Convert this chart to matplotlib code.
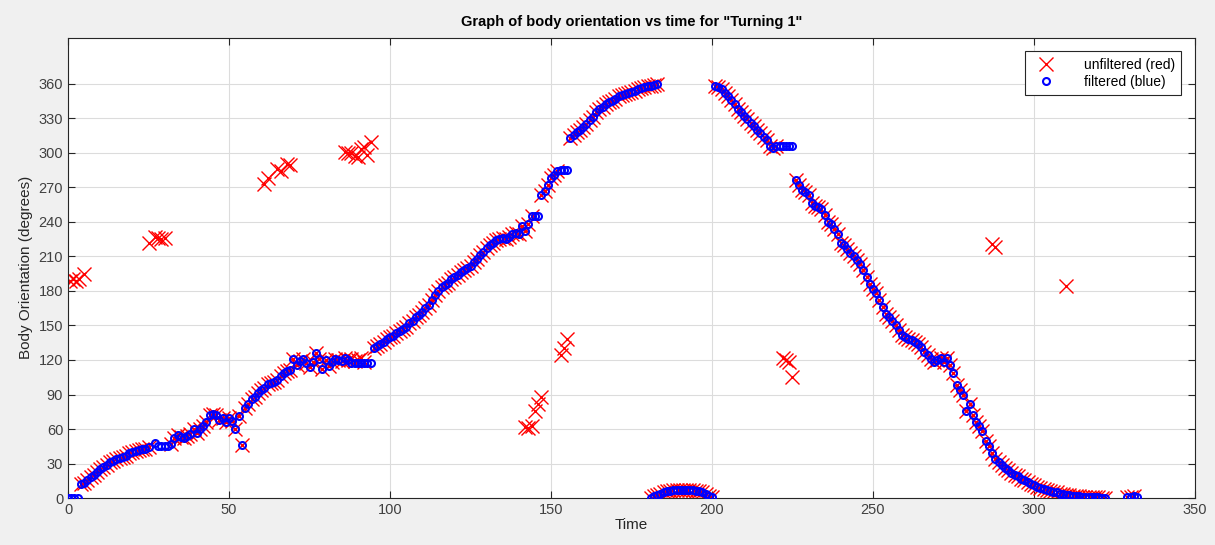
import numpy as np
import matplotlib
matplotlib.use("Agg")
import matplotlib.pyplot as plt

plt.rcParams["font.family"] = ["Liberation Sans", "DejaVu Sans"]
plt.rcParams["font.size"] = 10

# Main trajectory (present in both unfiltered and filtered data)
t_main = [
    4, 5, 6, 7, 8, 9, 10, 11, 12, 13, 14, 15, 16, 17, 18, 19, 20, 21, 22, 23, 24, 25,
    32, 33, 34, 35, 36, 37, 38, 39, 40, 41, 42, 43, 44, 45, 46, 47, 48, 49, 50, 51, 52,
    53, 54, 55, 56, 57, 58, 59, 60, 61, 62, 63, 64, 65, 66, 67, 68, 69, 70, 71, 72, 73,
    74, 75, 76, 77, 78, 79, 80, 81, 82, 83, 84, 85, 86, 87,
    95, 96, 97, 98, 99, 100, 101, 102, 103, 104, 105, 106, 107, 108, 109, 110, 111, 112,
    113, 114, 115, 116, 117, 118, 119, 120, 121, 122, 123, 124, 125, 126, 127, 128, 129,
    130, 131, 132, 133, 134, 135, 136, 137, 138, 139, 140, 141, 142, 143, 144,
    147, 148, 149, 150, 151, 152,
    156, 157, 158, 159, 160, 161, 162, 163, 164, 165, 166, 167, 168, 169, 170, 171, 172,
    173, 174, 175, 176, 177, 178, 179, 180, 181, 182, 183,
    181, 182, 183, 184, 185, 186, 187, 188, 189, 190, 191, 192, 193, 194, 195, 196, 197,
    198, 199, 200,
    201, 202, 203, 204, 205, 206, 207, 208, 209, 210, 211, 212, 213, 214, 215, 216, 217,
    218, 219, 220,
    226, 227, 228, 229, 230, 231, 232, 233, 234, 235, 236, 237, 238, 239, 240, 241, 242,
    243, 244, 245, 246, 247, 248, 249, 250, 251, 252, 253, 254, 255, 256, 257, 258, 259,
    260, 261, 262, 263, 264, 265, 266, 267, 268, 269, 270, 271, 272, 273, 274, 275, 276,
    277, 278, 279, 280, 281, 282, 283, 284, 285, 286, 287, 288, 289, 290, 291, 292, 293,
    294, 295, 296, 297, 298, 299, 300, 301, 302, 303, 304, 305, 306, 307, 308, 309, 310,
    311, 312, 313, 314, 315, 316, 317, 318, 319, 320, 321, 322, 329, 330, 331,
]
y_main = [
    12, 13, 16, 18, 20, 23, 25, 27, 29, 31, 32, 34, 35, 36, 37, 39, 40, 41, 42, 43, 43, 44,
    47, 52, 55, 53, 52, 54, 56, 60, 57, 60, 63, 66, 72, 73, 72, 68, 70, 66, 70, 67, 60,
    71, 46, 78, 82, 86, 88, 91, 94, 96, 99, 100, 101, 103, 106, 109, 110, 111, 121, 116,
    119, 121, 117, 114, 118, 126, 121, 112, 120, 115, 118, 121, 120, 119, 122, 120,
    130, 132, 134, 136, 138, 140, 141, 143, 145, 147, 149, 152, 154, 157, 159, 162, 165,
    168, 172, 176, 180, 183, 185, 187, 190, 192, 194, 196, 198, 200, 202, 205, 208, 211,
    214, 217, 220, 222, 224, 225, 226, 225, 227, 229, 230, 229, 236, 232, 238, 245,
    263, 267, 272, 278, 281, 284,
    313, 315, 318, 320, 322, 325, 328, 331, 335, 338, 340, 342, 344, 345, 347, 349, 350,
    351, 352, 353, 354, 355, 356, 357, 358, 358, 359, 360,
    0, 2, 3, 4, 5, 6, 6, 7, 7, 7, 7, 7, 7, 7, 6, 6, 5,
    4, 2, 1,
    358, 357, 355, 352, 349, 346, 342, 338, 335, 332, 329, 326, 323, 320, 317, 314, 311,
    306, 304, 306,
    276, 272, 268, 266, 263, 256, 254, 253, 251, 246, 240, 238, 234, 229, 222, 220, 216,
    213, 210, 207, 203, 198, 192, 186, 182, 178, 172, 166, 160, 157, 154, 150, 146, 142,
    140, 138, 137, 136, 134, 131, 127, 124, 121, 118, 120, 122, 118, 122, 116, 109, 98,
    94, 90, 76, 82, 72, 66, 63, 58, 50, 45, 39, 34, 31, 29, 26, 24, 22,
    20, 19, 17, 16, 14, 12, 11, 10, 9, 8, 7, 6, 5, 5, 4, 4, 3,
    3, 2, 2, 2, 1, 1, 1, 1, 1, 1, 0, 0, 1, 1, 2,
]

# Spikes only in the unfiltered data
t_spike = [0.5, 1.5, 2.5, 3.5, 5, 25, 27, 28, 29, 30, 61, 62, 65, 66, 68, 69,
           86, 87, 88, 89, 90, 91, 92, 93, 94, 88, 89, 90, 91, 92,
           142, 143, 144, 145, 146, 147, 153, 154, 155,
           222, 223, 224, 225, 287, 288, 310]
y_spike = [189, 190, 189, 190, 195, 222, 227, 226, 225, 226, 273, 278, 286, 284, 290, 289,
           301, 300, 300, 297, 296, 303, 305, 298, 309, 121, 119, 120, 122, 118,
           62, 61, 63, 76, 82, 88, 124, 130, 138,
           122, 120, 118, 105, 221, 218, 184]

# Held values that only appear in the filtered data
t_hold = [0, 1, 2, 3, 27, 28, 29, 30, 31, 88, 89, 90, 91, 92, 93, 94,
          145, 146, 153, 154, 155, 221, 222, 223, 224, 225, 332]
y_hold = [0, 0, 0, 0, 48, 45, 45, 45, 45, 117, 117, 117, 117, 117, 117, 117,
          245, 245, 285, 285, 285, 306, 306, 306, 306, 306, 1]

t_raw = np.concatenate([t_main, t_spike])
y_raw = np.concatenate([y_main, y_spike])
t_filt = np.concatenate([t_main, t_hold])
y_filt = np.concatenate([y_main, y_hold])

fig = plt.figure(figsize=(12.15, 5.45), dpi=100, facecolor="#f0f0f0")
ax = fig.add_axes([0.056, 0.086, 0.9275, 0.845])

ax.plot(t_raw, y_raw, "x", color="red", markersize=9.5, markeredgewidth=1.0,
        label="unfiltered (red)", zorder=2)
ax.plot(t_filt, y_filt, "o", color="blue", markersize=5, markeredgewidth=1.5,
        markerfacecolor="none", label="filtered (blue)", zorder=3)

ax.set_xlim(0, 350)
ax.set_ylim(0, 400)
ax.set_xticks(np.arange(0, 351, 50))
ax.set_yticks(np.arange(0, 361, 30))
ax.grid(True, color="#dcdcdc", linewidth=0.8)
ax.set_axisbelow(True)
ax.tick_params(direction="in", top=True, right=True, length=5,
               colors="#262626", labelcolor="#404040", labelsize=10.5)
for s in ax.spines.values():
    s.set_color("#262626")

ax.set_title('Graph of body orientation vs time for "Turning 1"',
             fontsize=10.5, fontweight="bold", pad=8)
ax.set_xlabel("Time", fontsize=11, color="#262626", labelpad=1)
ax.set_ylabel("Body Orientation (degrees)", fontsize=11, color="#262626", labelpad=4)

leg = ax.legend(loc="upper right", fontsize=10, fancybox=False, framealpha=1,
                edgecolor="#262626", borderaxespad=1.0, handletextpad=1.6,
                handlelength=2.2, labelspacing=0.25, borderpad=0.45)
leg.get_frame().set_linewidth(0.8)

fig.savefig("out.png", dpi=100, facecolor=fig.get_facecolor())
